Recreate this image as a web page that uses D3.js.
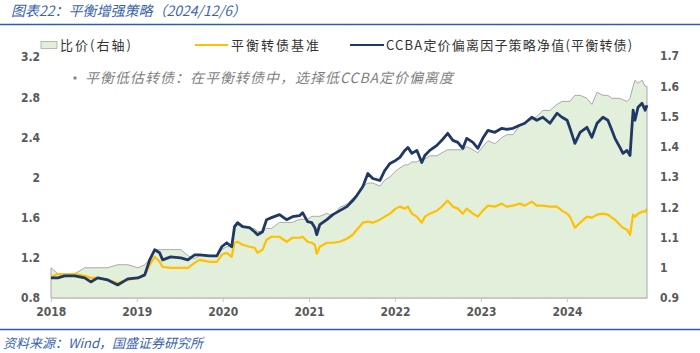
<!DOCTYPE html>
<html>
<head>
<meta charset="utf-8">
<script src="https://cdn.jsdelivr.net/npm/d3@7"></script>
<style>
  html, body { margin: 0; padding: 0; background: #fff; }
  svg { display: block; }
</style>
</head>
<body>
<svg id="chart" width="700" height="353"></svg>
<script>
const dates = [
"2018-01-02","2018-01-31","2018-03-01","2018-04-13","2018-05-25","2018-06-20","2018-07-19","2018-08-31","2018-10-12","2018-11-24",
"2019-01-06","2019-02-04","2019-02-25","2019-03-18","2019-04-08","2019-04-21","2019-05-25","2019-07-07","2019-08-06","2019-09-04","2019-09-25","2019-11-07","2019-12-07","2019-12-28",
"2020-01-18","2020-02-08","2020-02-20","2020-03-04","2020-03-25","2020-04-24","2020-05-15","2020-05-28","2020-06-18","2020-07-05","2020-07-26","2020-08-29","2020-09-28","2020-10-23","2020-11-22","2020-12-05","2020-12-26",
"2021-01-13","2021-01-26","2021-02-03","2021-02-16","2021-03-18","2021-04-12","2021-05-12","2021-06-11","2021-07-06","2021-07-23","2021-08-18","2021-09-08","2021-09-29","2021-10-29","2021-11-19","2021-12-11",
"2022-01-04","2022-01-22","2022-02-12","2022-02-25","2022-03-14","2022-04-04","2022-04-25","2022-05-08","2022-05-29","2022-06-28","2022-07-19","2022-08-13","2022-09-04","2022-09-25","2022-10-16","2022-11-02","2022-11-28","2022-12-19",
"2023-01-09","2023-01-31","2023-03-01","2023-03-31","2023-04-21","2023-05-17","2023-06-15","2023-07-06","2023-08-05","2023-08-26","2023-09-21","2023-10-21","2023-11-20","2023-12-11",
"2024-01-02","2024-01-14","2024-02-04","2024-02-26","2024-03-26","2024-04-16","2024-05-08","2024-06-02","2024-06-23","2024-07-10","2024-07-23","2024-08-13","2024-08-26","2024-09-12","2024-09-25","2024-10-08","2024-10-16","2024-10-29","2024-11-15","2024-11-28","2024-12-06"
];
// CCBA定价偏离因子策略净值(平衡转债) — left axis
const ccba = [
1.00,1.00,1.02,1.02,1.00,0.96,1.00,0.98,0.93,0.99,
1.00,1.03,1.18,1.28,1.25,1.18,1.21,1.20,1.18,1.23,1.23,1.22,1.22,1.31,
1.35,1.31,1.51,1.55,1.51,1.50,1.46,1.43,1.46,1.58,1.60,1.63,1.58,1.61,1.62,1.65,1.56,
1.55,1.50,1.43,1.53,1.58,1.63,1.67,1.71,1.77,1.82,1.91,2.04,1.99,1.97,2.07,2.14,
2.17,2.20,2.27,2.30,2.24,2.27,2.15,2.22,2.27,2.32,2.37,2.44,2.37,2.35,2.29,2.39,2.35,2.29,
2.39,2.47,2.45,2.49,2.48,2.49,2.52,2.54,2.60,2.57,2.60,2.54,2.64,2.60,
2.57,2.49,2.34,2.45,2.50,2.40,2.54,2.60,2.57,2.47,2.39,2.30,2.24,2.27,2.22,2.67,2.57,2.70,2.74,2.67,2.72
];
// 平衡转债基准 — left axis
const bench = [
1.01,1.04,1.03,1.04,1.02,1.00,1.00,0.98,0.95,0.98,
1.00,1.03,1.13,1.21,1.16,1.11,1.10,1.10,1.10,1.15,1.18,1.16,1.16,1.23,
1.25,1.21,1.35,1.36,1.33,1.31,1.30,1.25,1.28,1.38,1.41,1.41,1.36,1.40,1.40,1.41,1.36,
1.35,1.33,1.24,1.31,1.35,1.35,1.36,1.39,1.43,1.48,1.55,1.56,1.55,1.58,1.61,1.64,
1.69,1.71,1.69,1.71,1.64,1.61,1.55,1.61,1.64,1.67,1.71,1.77,1.71,1.69,1.64,1.69,1.64,1.61,
1.67,1.72,1.71,1.74,1.71,1.72,1.74,1.72,1.76,1.72,1.72,1.71,1.71,1.67,
1.64,1.61,1.50,1.55,1.61,1.60,1.63,1.64,1.63,1.60,1.58,1.53,1.50,1.48,1.43,1.63,1.61,1.64,1.66,1.66,1.69
];
// 比价(右轴) — right axis
const ratio = [
1.00,0.98,0.98,0.98,1.00,1.00,1.00,1.00,1.01,1.01,
1.00,1.01,1.03,1.06,1.06,1.06,1.06,1.06,1.04,1.03,1.04,1.04,1.04,1.06,
1.07,1.07,1.13,1.14,1.14,1.13,1.13,1.12,1.12,1.13,1.13,1.15,1.15,1.15,1.16,1.16,1.16,
1.17,1.17,1.17,1.17,1.18,1.17,1.20,1.21,1.23,1.24,1.27,1.28,1.28,1.27,1.29,1.30,
1.32,1.33,1.34,1.34,1.35,1.35,1.36,1.36,1.37,1.37,1.38,1.39,1.39,1.39,1.39,1.40,1.39,1.38,
1.40,1.42,1.41,1.43,1.44,1.44,1.47,1.48,1.49,1.50,1.52,1.52,1.54,1.55,
1.55,1.55,1.57,1.57,1.56,1.54,1.58,1.57,1.57,1.56,1.56,1.56,1.555,1.55,1.56,1.60,1.62,1.61,1.62,1.60,1.60
];
const leftTicks = [0.8, 1.2, 1.6, 2, 2.4, 2.8, 3.2];
const rightTicks = [0.9, 1, 1.1, 1.2, 1.3, 1.4, 1.5, 1.6, 1.7];
const yearTicks = ["2018","2019","2020","2021","2022","2023","2024"];
const seriesNames = ["比价(右轴)", "平衡转债基准", "CCBA定价偏离因子策略净值(平衡转债)"];
const titleText = "图表22：平衡增强策略（2024/12/6）";
const noteText = "平衡低估转债：在平衡转债中，选择低CCBA定价偏离度";
const sourceText = "资料来源：Wind，国盛证券研究所";

const parse = d3.timeParse("%Y-%m-%d");
const data = dates.map((d, i) => ({ date: parse(d), ccba: ccba[i], bench: bench[i], ratio: ratio[i] }));

const svg = d3.select("#chart");
const cjk = "'Noto Sans CJK SC', 'Noto Sans', sans-serif";
const numFont = "'DejaVu Sans Condensed', 'DejaVu Sans', sans-serif";

const x = d3.scaleTime().domain([parse("2018-01-02"), parse("2024-12-06")]).range([51, 647]);
const yL = d3.scaleLinear().domain([0.8, 3.2]).range([298, 57]);
const yR = d3.scaleLinear().domain([0.9, 1.7]).range([298, 56]);

// title
svg.append("text").attr("x", 11).attr("y", 16)
  .attr("font-family", cjk).attr("font-size", 14).attr("font-style", "italic")
  .attr("fill", "#3b64ad").text(titleText);
svg.append("line").attr("x1", 0).attr("x2", 700).attr("y1", 24.5).attr("y2", 24.5)
  .attr("stroke", "#2d5ca8").attr("stroke-width", 1.6);

// area (ratio)
const area = d3.area().x(d => x(d.date)).y0(yR(0.9)).y1(d => yR(d.ratio));
svg.append("path").datum(data).attr("d", area)
  .attr("fill", "#e2efda").attr("stroke", "#a9a9a9").attr("stroke-width", 1);

// lines
const lineB = d3.line().x(d => x(d.date)).y(d => yL(d.bench));
const lineC = d3.line().x(d => x(d.date)).y(d => yL(d.ccba));
svg.append("path").datum(data).attr("d", lineB)
  .attr("fill", "none").attr("stroke", "#ffc000").attr("stroke-width", 2.2).attr("stroke-linejoin", "round");
svg.append("path").datum(data).attr("d", lineC)
  .attr("fill", "none").attr("stroke", "#1f3864").attr("stroke-width", 2.8).attr("stroke-linejoin", "round");

// x axis
const xAxis = d3.axisBottom(x)
  .tickValues(yearTicks.map(y => parse(y + "-01-01")))
  .tickFormat(d3.timeFormat("%Y")).tickSize(4).tickSizeOuter(0).tickPadding(5);
const gx = svg.append("g").attr("transform", "translate(0,298)").call(xAxis);
gx.select(".domain").attr("stroke", "#c8c8c8");
gx.selectAll(".tick line").attr("stroke", "#c8c8c8");
gx.selectAll(".tick text").attr("font-family", numFont).attr("font-weight", "bold")
  .attr("font-size", 12).attr("fill", "#595959");

// left axis
const gl = svg.append("g").attr("transform", "translate(51,0)")
  .call(d3.axisLeft(yL).tickValues(leftTicks).tickFormat(d3.format("")).tickSize(0).tickPadding(11));
gl.select(".domain").remove();
gl.selectAll(".tick text").attr("font-family", numFont).attr("font-weight", "bold")
  .attr("font-size", 12).attr("fill", "#595959");

// right axis
const gr = svg.append("g").attr("transform", "translate(647,0)")
  .call(d3.axisRight(yR).tickValues(rightTicks).tickFormat(d3.format("")).tickSize(0).tickPadding(13));
gr.select(".domain").remove();
gr.selectAll(".tick text").attr("font-family", numFont).attr("font-weight", "bold")
  .attr("font-size", 12).attr("fill", "#595959");

// legend
const lg = svg.append("g").attr("font-family", cjk).attr("font-size", 13).attr("fill", "#333");
lg.append("rect").attr("x", 41).attr("y", 41.5).attr("width", 16).attr("height", 7)
  .attr("fill", "#e2efda").attr("stroke", "#a9a9a9").attr("stroke-width", 0.8);
lg.append("text").attr("x", 60).attr("y", 50).attr("letter-spacing", 2).text(seriesNames[0]);
lg.append("line").attr("x1", 195).attr("x2", 228).attr("y1", 45).attr("y2", 45)
  .attr("stroke", "#ffc000").attr("stroke-width", 2.2);
lg.append("text").attr("x", 231).attr("y", 50).attr("letter-spacing", 2).text(seriesNames[1]);
lg.append("line").attr("x1", 350).attr("x2", 384).attr("y1", 45).attr("y2", 45)
  .attr("stroke", "#1f3864").attr("stroke-width", 2.2);
lg.append("text").attr("x", 386).attr("y", 50).attr("letter-spacing", 1.2).text(seriesNames[2]);

// note
svg.append("circle").attr("cx", 75).attr("cy", 78).attr("r", 1.8).attr("fill", "#8c8c8c");
svg.append("text").attr("x", 85).attr("y", 83)
  .attr("font-family", cjk).attr("font-size", 14).attr("font-style", "italic")
  .attr("letter-spacing", 1).attr("fill", "#7f7f7f").text(noteText);

// footer
svg.append("line").attr("x1", 0).attr("x2", 700).attr("y1", 329.5).attr("y2", 329.5)
  .attr("stroke", "#2d5ca8").attr("stroke-width", 1.6);
svg.append("text").attr("x", 3).attr("y", 348)
  .attr("font-family", cjk).attr("font-size", 13).attr("font-style", "italic")
  .attr("fill", "#3b64ad").text(sourceText);
</script>
</body>
</html>
